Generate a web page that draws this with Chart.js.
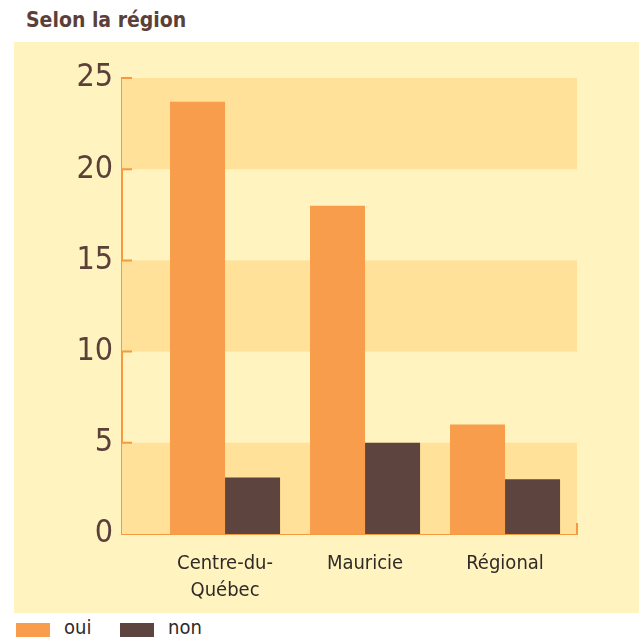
<!DOCTYPE html>
<html>
<head>
<meta charset="utf-8">
<script src="https://cdn.jsdelivr.net/npm/chart.js@4/dist/chart.umd.min.js"></script>
<style>
  body { margin: 0; background: #ffffff; }
  #wrap { position: relative; width: 639px; height: 639px; overflow: hidden; font-family: 'DejaVu Sans Condensed', 'Liberation Sans', sans-serif; }
  #title { position: absolute; left: 26px; top: 8px; font-size: 21px; line-height: 24px; font-weight: bold; color: #5b4039; }
  #panel { position: absolute; left: 14px; top: 42px; width: 625px; height: 571px; background: #fff3bf; }
  #legend { position: absolute; left: 16px; top: 616px; font-size: 20px; line-height: 22px; color: #2f2a28; }
  .item { position: absolute; top: 0; white-space: nowrap; }
  .box { position: absolute; top: 7px; width: 34px; height: 14px; }
  .lbl { position: absolute; top: 0; }
</style>
</head>
<body>
<div id="wrap">
  <div id="title">Selon la région</div>
  <div id="panel"><canvas id="chart" width="625" height="571"></canvas></div>
  <div id="legend"></div>
</div>
<script>
// Data
const categories = [['Centre-du-', 'Québec'], ['Mauricie'], ['Régional']];
const seriesNames = ['oui', 'non'];
const ouiValues = [23.7, 18.0, 6.0];
const nonValues = [3.1, 5.0, 3.0];
const yTicks = [0, 5, 10, 15, 20, 25];

const orange = '#f89d4b';
const brown = '#5d443e';
const axisColor = '#f7993f';
const bandColor = '#ffe19a';
const fontFamily = "'DejaVu Sans Condensed', 'Liberation Sans', sans-serif";

// Alternating background bands + inward ticks
const bandsPlugin = {
  id: 'bands',
  beforeDatasetsDraw(chart) {
    const { ctx, chartArea, scales } = chart;
    const y = scales.y;
    ctx.save();
    ctx.fillStyle = bandColor;
    for (let i = 0; i < yTicks.length - 1; i += 2) {
      const top = y.getPixelForValue(yTicks[i + 1]);
      const bottom = y.getPixelForValue(yTicks[i]);
      ctx.fillRect(chartArea.left, top, chartArea.right - chartArea.left, bottom - top);
    }
    ctx.restore();
  },
  afterDraw(chart) {
    const { ctx, chartArea, scales } = chart;
    const y = scales.y;
    ctx.save();
    ctx.strokeStyle = axisColor;
    ctx.lineWidth = 2;
    ctx.beginPath();
    yTicks.forEach(t => {
      if (t === 0) return;
      const py = y.getPixelForValue(t);
      ctx.moveTo(chartArea.left, py);
      ctx.lineTo(chartArea.left + 10, py);
    });
    ctx.moveTo(chartArea.right, chartArea.bottom);
    ctx.lineTo(chartArea.right, chartArea.bottom - 11);
    ctx.stroke();
    ctx.restore();
  }
};

const ctx = document.getElementById('chart').getContext('2d');
const chart = new Chart(ctx, {
  type: 'bar',
  data: {
    datasets: [
      {
        label: seriesNames[0],
        data: ouiValues.map((v, i) => ({ x: i, y: v })),
        backgroundColor: orange
      },
      {
        label: seriesNames[1],
        data: nonValues.map((v, i) => ({ x: i, y: v })),
        backgroundColor: brown
      }
    ]
  },
  options: {
    responsive: false,
    animation: false,
    layout: { padding: { top: 36, right: 62, left: 0, bottom: 0 } },
    datasets: { bar: { categoryPercentage: 0.786, barPercentage: 1.0 } },
    plugins: {
      legend: { display: false },
      tooltip: { enabled: false }
    },
    scales: {
      x: {
        type: 'linear',
        offset: false,
        min: -0.736,
        max: 2.514,
        grid: { display: false, drawTicks: false },
        border: { display: true, color: axisColor, width: 2 },
        afterBuildTicks: scale => { scale.ticks = categories.map((c, i) => ({ value: i })); },
        afterFit: scale => { scale.height = 79; },
        ticks: {
          autoSkip: false,
          maxRotation: 0,
          padding: 16,
          color: '#2f2a28',
          font: { family: fontFamily, size: 20, lineHeight: '27px' },
          callback: v => categories[v]
        }
      },
      y: {
        min: 0,
        max: 25,
        grid: { display: false, drawTicks: false },
        border: { display: true, color: axisColor, width: 2 },
        afterFit: scale => { scale.width = 108; },
        ticks: {
          stepSize: 5,
          padding: 9,
          color: '#5b4039',
          font: { family: fontFamily, size: 32 }
        }
      }
    }
  },
  plugins: [bandsPlugin]
});

// HTML legend
const legend = document.getElementById('legend');
const legendX = [0, 104];
chart.data.datasets.forEach((ds, i) => {
  const item = document.createElement('div');
  item.className = 'item';
  item.style.left = legendX[i] + 'px';
  item.innerHTML = `<div class="box" style="background:${ds.backgroundColor}"></div><div class="lbl" style="left:48px">${ds.label}</div>`;
  legend.appendChild(item);
});
</script>
</body>
</html>
